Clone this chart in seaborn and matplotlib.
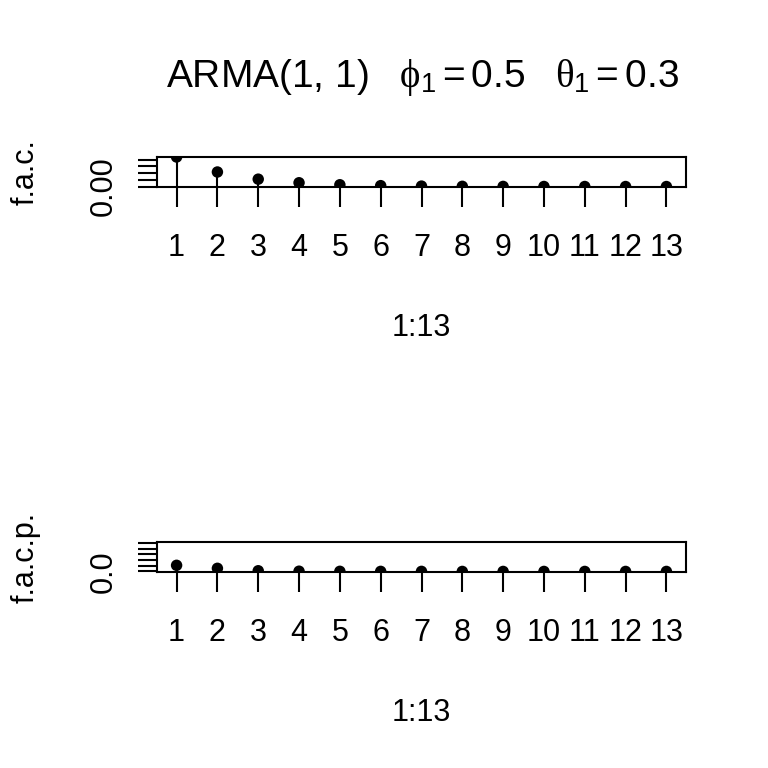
import matplotlib
matplotlib.use('Agg')
import matplotlib.pyplot as plt
import seaborn as sns
import pandas as pd

# ---- data ----
lags = list(range(1, 14))
fac = [0.66, 0.325, 0.165, 0.085, 0.04, 0.02, 0.01, 0.005, 0.003, 0.0015, 0.001, 0.0005, 0.0002]
facp = [0.108, 0.055, 0.012, 0.004, 0.002, 0.001, 0.001, 0.0, 0.0, 0.0, 0.0, 0.0, 0.0]
fac_yticks = [0.0, 0.15, 0.30, 0.45, 0.60]
fac_ylabels = ['0.00', '', '', '', '']
facp_yticks = [0.0, 0.1, 0.2, 0.3, 0.4, 0.5]
facp_ylabels = ['0.0', '', '', '', '', '']
xlabel = '1:13'
title = r'ARMA$(1,\,1)\quad\phi_1 = 0.5\quad\theta_1 = 0.3$'

sns.set_theme(style='ticks')
plt.rcParams['font.family'] = ['Liberation Sans', 'DejaVu Sans']
plt.rcParams['text.color'] = 'black'
plt.rcParams['axes.labelcolor'] = 'black'
plt.rcParams['mathtext.fontset'] = 'custom'
plt.rcParams['mathtext.rm'] = 'Liberation Sans'
plt.rcParams['mathtext.it'] = 'Liberation Serif'
plt.rcParams['mathtext.sf'] = 'Liberation Sans'

W = 768
fig = plt.figure(figsize=(7.68, 7.68), dpi=100)
fig.patch.set_facecolor('white')

def make_axes(top_px, bot_px):
    left = 157 / W
    right = 686 / W
    return fig.add_axes([left, 1 - bot_px / W, right - left, (bot_px - top_px) / W])

panels = [
    (157, 187, fac, fac_yticks, fac_ylabels, (-0.01, 0.66), 'f.a.c.'),
    (542, 572, facp, facp_yticks, facp_ylabels, (-0.01, 0.52), 'f.a.c.p.'),
]

for top_px, bot_px, vals, yt, yl, ylim, ylab in panels:
    ax = make_axes(top_px, bot_px)
    df = pd.DataFrame({'lag': lags, 'val': vals})
    ax.vlines(df['lag'], 0, df['val'], color='black', lw=1.5)
    sns.scatterplot(data=df, x='lag', y='val', ax=ax, color='black', s=68,
                    edgecolor='none', zorder=3, legend=False)
    ax.set_xlim(0.52, 13.48)
    ax.set_ylim(*ylim)
    ax.set_xticks(lags)
    ax.set_xticklabels([str(i) for i in lags], fontsize=22, color='black')
    ax.set_yticks(yt)
    ax.set_yticklabels(yl, fontsize=22, rotation=90, va='center', color='black')
    ax.tick_params(axis='x', direction='out', length=14.4, width=1.5, pad=19, colors='black')
    ax.tick_params(axis='y', direction='out', length=13.7, width=1.5, pad=14, colors='black')
    for s in ax.spines.values():
        s.set_visible(True)
        s.set_color('black')
        s.set_linewidth(1.5)
    ax.set_xlabel(xlabel, fontsize=22, labelpad=36, color='black')
    ax.set_ylabel('')
    fig.text(26 / W, 1 - ((top_px + bot_px) / 2) / W, ylab, rotation=90,
             ha='center', va='center', fontsize=22, color='black')
    ax.set_facecolor('white')

fig.text(422 / W, 1 - 77 / W, title, ha='center', va='center', fontsize=28, color='black')

fig.savefig('out.png', dpi=100, facecolor='white')
